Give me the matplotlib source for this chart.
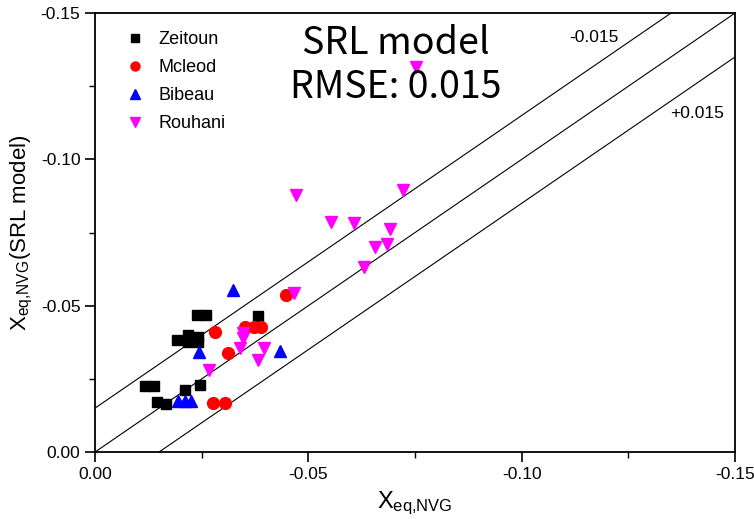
import matplotlib
matplotlib.use("Agg")
import matplotlib.pyplot as plt
from matplotlib.lines import Line2D

plt.rcParams['font.family'] = ['Liberation Sans', 'DejaVu Sans']
plt.rcParams['mathtext.fontset'] = 'custom'
plt.rcParams['mathtext.rm'] = 'Liberation Sans'
plt.rcParams['mathtext.it'] = 'Liberation Sans'

# Data (x: X_eq,NVG ; y: X_eq,NVG (SRL model))
zeitoun_x = [-0.0240, -0.0260, -0.0382, -0.0191, -0.0217, -0.0217, -0.0242, -0.0242,
             -0.0117, -0.0138, -0.0211, -0.0247, -0.0146, -0.0166]
zeitoun_y = [-0.0468, -0.0468, -0.0465, -0.0383, -0.0400, -0.0377, -0.0394, -0.0377,
             -0.0227, -0.0227, -0.0212, -0.0229, -0.0170, -0.0164]
mcleod_x = [-0.0281, -0.0351, -0.0373, -0.0390, -0.0312, -0.0277, -0.0304, -0.0447]
mcleod_y = [-0.0409, -0.0428, -0.0428, -0.0426, -0.0337, -0.0166, -0.0166, -0.0537]
bibeau_x = [-0.0324, -0.0244, -0.0433, -0.0195, -0.0211, -0.0225]
bibeau_y = [-0.0554, -0.0343, -0.0345, -0.0175, -0.0175, -0.0175]
rouhani_x = [-0.0751, -0.0472, -0.0554, -0.0607, -0.0722, -0.0692, -0.0657, -0.0685,
             -0.0630, -0.0466, -0.0347, -0.0347, -0.0339, -0.0396, -0.0382, -0.0268]
rouhani_y = [-0.1317, -0.0878, -0.0787, -0.0784, -0.0895, -0.0762, -0.0702, -0.0710,
             -0.0633, -0.0544, -0.0406, -0.0389, -0.0354, -0.0354, -0.0314, -0.0280]

offset = 0.015
xticks = [0.00, -0.05, -0.10, -0.15]
yticks = [0.00, -0.05, -0.10, -0.15]
tick_labels = ['0.00', '-0.05', '-0.10', '-0.15']

fig = plt.figure(figsize=(7.54, 5.19), dpi=100)
ax = fig.add_axes([0.126, 0.129, 0.849, 0.846])

# reference lines
lx = [0.0, -0.15]
ax.plot(lx, lx, color='black', lw=0.8, zorder=1)
ax.plot([0.0, -0.15 + offset], [-offset, -0.15], color='black', lw=0.8, zorder=1)
ax.plot([-offset, -0.15], [0.0, -0.15 + offset], color='black', lw=0.8, zorder=1)

ms = 8.5
ax.plot(zeitoun_x, zeitoun_y, 's', color='black', ms=ms*0.92, ls='none', zorder=3)
ax.plot(mcleod_x, mcleod_y, 'o', color='red', ms=ms, ls='none', zorder=3)
ax.plot(bibeau_x, bibeau_y, '^', color='blue', ms=ms*1.05, ls='none', zorder=3)
ax.plot(rouhani_x, rouhani_y, 'v', color='magenta', ms=ms*1.05, ls='none', zorder=3)

ax.set_xlim(0, -0.15)
ax.set_ylim(0, -0.15)
ax.set_xticks(xticks)
ax.set_xticklabels(tick_labels)
ax.set_yticks(yticks)
ax.set_yticklabels(tick_labels)
ax.set_xticks([-0.025, -0.075, -0.125], minor=True)
ax.set_yticks([-0.025, -0.075, -0.125], minor=True)
ax.tick_params(which='major', direction='out', length=7, width=1.2, labelsize=12.5,
               top=False, right=False)
ax.tick_params(which='minor', direction='out', length=4, width=1.0, top=False, right=False)
for s in ax.spines.values():
    s.set_linewidth(1.3)

ax.set_xlabel(r'$\mathregular{X_{eq{,}NVG}}$', fontsize=17, labelpad=6)
ax.set_ylabel(r'$\mathregular{X_{eq{,}NVG}}$(SRL model)', fontsize=16, labelpad=4)

handles = [Line2D([], [], marker='s', color='black', ls='none', ms=6),
           Line2D([], [], marker='o', color='red', ms=6.5, ls='none'),
           Line2D([], [], marker='^', color='blue', ms=6.5, ls='none'),
           Line2D([], [], marker='v', color='magenta', ms=6.5, ls='none')]
ax.legend(handles, ['Zeitoun', 'Mcleod', 'Bibeau', 'Rouhani'], loc='upper left',
          bbox_to_anchor=(0.02, 0.995), frameon=False, fontsize=13,
          handletextpad=0.7, labelspacing=0.6, handlelength=1.2)

ax.text(0.47, 0.93, 'SRL model', transform=ax.transAxes, ha='center', va='center',
        fontsize=27, fontweight='light', family=['Noto Sans CJK KR', 'DejaVu Sans'])
ax.text(0.47, 0.83, 'RMSE: 0.015', transform=ax.transAxes, ha='center', va='center',
        fontsize=27, fontweight='light', family=['Noto Sans CJK KR', 'DejaVu Sans'])
ax.text(0.78, 0.945, '-0.015', transform=ax.transAxes, ha='center', va='center', fontsize=12.5)
ax.text(0.94, 0.77, '+0.015', transform=ax.transAxes, ha='center', va='center', fontsize=12.5)

fig.savefig('out.png', dpi=100)
